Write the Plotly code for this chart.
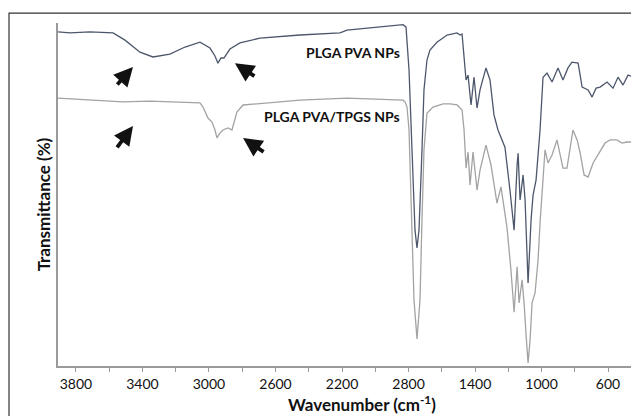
import plotly.graph_objects as go

# Wavenumber (cm-1) and transmittance (arbitrary %)
pva_wn = [3908, 3836, 3716, 3577, 3505, 3415, 3337, 3235, 3144, 3054, 2994, 2964, 2946, 2928, 2910,
          2874, 2814, 2693, 2453, 2212, 2170, 2032, 1911, 1833, 1815, 1797, 1779, 1761, 1749, 1737,
          1719, 1707, 1689, 1671, 1629, 1568, 1508, 1490, 1478, 1466, 1454, 1442, 1424, 1406, 1388,
          1370, 1334, 1310, 1286, 1262, 1220, 1190, 1165, 1147, 1141, 1129, 1111, 1099, 1081, 1063,
          1051, 1033, 1009, 991, 967, 937, 901, 871, 841, 817, 780, 756, 720, 696, 672, 648, 606,
          570, 540, 510, 480, 462]
pva_t = [97.4, 97.1, 97.4, 97.1, 95.0, 91.5, 90.1, 90.9, 93.0, 94.4, 92.7, 90.4, 88.3, 89.8, 89.8,
         92.4, 94.2, 95.6, 96.5, 97.1, 97.9, 98.5, 99.1, 99.5, 98.8, 86.3, 63.0, 39.6, 34.4, 39.6,
         63.0, 80.5, 89.2, 92.1, 94.4, 96.5, 97.1, 96.5, 96.8, 90.7, 83.4, 84.8, 76.1, 84.2, 75.2,
         80.5, 86.9, 83.4, 73.2, 68.8, 63.8, 51.3, 39.6, 58.6, 62.0, 48.4, 55.7, 48.4, 24.2, 42.6,
         49.8, 54.2, 68.8, 84.2, 85.4, 82.8, 86.9, 83.4, 86.9, 88.6, 88.3, 81.3, 80.5, 78.4, 81.0,
         81.3, 82.8, 81.0, 84.2, 81.9, 84.8, 84.5]

tpgs_wn = [3908, 3776, 3656, 3517, 3355, 3174, 3054, 3036, 3006, 2982, 2964, 2952, 2934, 2916, 2886,
           2862, 2844, 2832, 2795, 2651, 2453, 2170, 1971, 1833, 1821, 1809, 1797, 1785, 1767, 1749,
           1731, 1719, 1707, 1689, 1653, 1592, 1550, 1508, 1478, 1466, 1454, 1442, 1430, 1412, 1388,
           1370, 1334, 1304, 1268, 1244, 1208, 1184, 1165, 1147, 1135, 1117, 1105, 1093, 1081, 1069,
           1057, 1039, 1021, 1009, 979, 961, 937, 907, 871, 847, 811, 786, 768, 744, 720, 690, 648,
           618, 588, 546, 516, 486, 462]
tpgs_t = [78.1, 77.8, 77.5, 77.0, 77.2, 77.0, 76.7, 75.5, 72.3, 71.1, 68.8, 66.5, 67.9, 68.8, 69.4,
          68.8, 71.7, 74.0, 76.1, 76.7, 77.5, 78.1, 77.8, 77.5, 77.0, 75.5, 68.8, 48.4, 19.2, 7.9,
          19.2, 42.6, 63.0, 73.7, 75.5, 76.4, 76.4, 76.1, 74.6, 68.8, 57.7, 62.4, 52.8, 62.4, 51.3,
          57.1, 64.4, 58.6, 47.5, 52.2, 40.5, 28.0, 15.7, 28.9, 18.4, 25.1, 18.4, 9.0, 0.9, 7.6,
          18.4, 21.3, 30.9, 41.7, 63.0, 59.2, 61.5, 65.9, 57.7, 57.7, 68.8, 65.9, 62.1, 55.7, 55.1,
          59.2, 62.4, 65.0, 65.9, 65.9, 65.0, 65.3, 65.3]

tick_vals = [3800, 3400, 3000, 2600, 2200, 1800, 1400, 1000, 600]
tick_text = ["3800", "3400", "3000", "2600", "2200", "2800", "1400", "1000", "600"]
minor_vals = [3600, 3200, 2800, 2400, 2000, 1600, 1200, 800]

series_names = ["PLGA PVA NPs", "PLGA PVA/TPGS NPs"]

FONT = "Lato, 'Open Sans', sans-serif"

fig = go.Figure()
fig.add_trace(go.Scatter(x=pva_wn, y=pva_t, mode="lines", name=series_names[0],
                         line=dict(color="#4d576b", width=1.3)))
fig.add_trace(go.Scatter(x=tpgs_wn, y=tpgs_t, mode="lines", name=series_names[1],
                         line=dict(color="#a3a3a3", width=1.3)))

ann = [
    dict(x=1839, y=91.5, text="<b>PLGA PVA NPs</b>", xanchor="right", yanchor="middle",
         showarrow=False, font=dict(size=14, color="#111")),
    dict(x=1839, y=72.6, text="<b>PLGA PVA/TPGS NPs</b>", xanchor="right", yanchor="middle",
         showarrow=False, font=dict(size=14, color="#111")),
    dict(x=-0.047, y=0.47, xref="paper", yref="paper", text="<b>Transmittance (%)</b>",
         textangle=-90, showarrow=False, font=dict(size=17, color="#111")),
    dict(x=0.5305, y=-0.108, xref="paper", yref="paper", text="<b>Wavenumber (cm<sup>-1</sup>)</b>",
         showarrow=False, yanchor="middle", font=dict(size=17, color="#111")),
]
arrows = [(3457, 87.2, -17, 19), (2844, 88.3, 21, 14), (3457, 70.0, -17, 23), (2795, 66.5, 22, 15)]
for hx, hy, ax, ay in arrows:
    ann.append(dict(x=hx, y=hy, ax=ax, ay=ay, text="", showarrow=True, arrowhead=2,
                    arrowsize=1.0, arrowwidth=3.8, arrowcolor="#111"))

fig.update_layout(
    width=631, height=416,
    margin=dict(l=58, r=0, t=23, b=50),
    paper_bgcolor="white", plot_bgcolor="white",
    showlegend=False,
    font=dict(family=FONT, color="#111"),
    annotations=ann,
    shapes=[dict(type="path", xref="paper", yref="paper",
                 path="M -0.0855 -0.3 L -0.0855 1.029 L 1.05 1.029",
                 line=dict(color="#333", width=1.2))],
)
fig.update_xaxes(range=[3908, 462], showgrid=False, zeroline=False,
                 showline=True, linecolor="#9a9a9a", linewidth=1.5,
                 tickmode="array", tickvals=tick_vals, ticktext=tick_text,
                 ticks="outside", ticklen=4, tickcolor="#9a9a9a",
                 tickfont=dict(size=14, family=FONT, color="#111"),
                 minor=dict(tickvals=minor_vals, ticks="outside", ticklen=4, tickcolor="#9a9a9a"))
fig.update_yaxes(range=[0, 100], showgrid=False, zeroline=False, showticklabels=False,
                 showline=True, linecolor="#9a9a9a", linewidth=1.5, ticks="")

fig.write_html("out.html", config={"displayModeBar": False},
               post_script="document.body.style.margin='0px';document.body.style.padding='0px';")
